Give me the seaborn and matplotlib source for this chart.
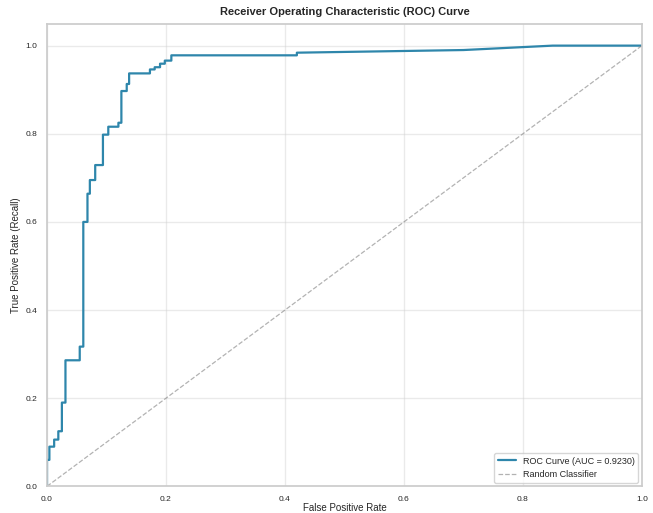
import matplotlib
matplotlib.use("Agg")
import matplotlib.pyplot as plt
import seaborn as sns
import pandas as pd

fpr = [0.0, 0.0, 0.004, 0.004, 0.012, 0.012, 0.019, 0.019, 0.025, 0.025, 0.031, 0.031,
       0.055, 0.055, 0.061, 0.061, 0.068, 0.068, 0.072, 0.072, 0.081, 0.081, 0.094, 0.094,
       0.103, 0.103, 0.120, 0.120, 0.125, 0.125, 0.134, 0.134, 0.138, 0.138, 0.173, 0.173,
       0.181, 0.181, 0.190, 0.190, 0.198, 0.198, 0.209, 0.209, 0.420, 0.420, 0.700, 0.850, 1.0]
tpr = [0.0, 0.06, 0.06, 0.09, 0.09, 0.106, 0.106, 0.125, 0.125, 0.19, 0.19, 0.286,
       0.286, 0.317, 0.317, 0.60, 0.60, 0.664, 0.664, 0.695, 0.695, 0.729, 0.729, 0.798,
       0.798, 0.816, 0.816, 0.825, 0.825, 0.897, 0.897, 0.913, 0.913, 0.937, 0.937, 0.946,
       0.946, 0.951, 0.951, 0.959, 0.959, 0.966, 0.966, 0.978, 0.978, 0.984, 0.990, 1.0, 1.0]
chance_x = [0.0, 1.0]
chance_y = [0.0, 1.0]
auc_value = 0.9230

sns.set_theme(style="whitegrid")
plt.rcParams['font.family'] = ['Liberation Sans', 'DejaVu Sans']

fig = plt.figure(figsize=(6.53, 5.13), dpi=100)
ax = fig.add_axes([0.072, 0.052, 0.911, 0.902])

roc = pd.DataFrame({"fpr": fpr, "tpr": tpr})
sns.lineplot(data=roc, x="fpr", y="tpr", sort=False, estimator=None, ax=ax,
             color="#2E86AB", linewidth=1.6, label=f"ROC Curve (AUC = {auc_value:.4f})")
sns.lineplot(x=chance_x, y=chance_y, ax=ax, color="gray", linestyle="--",
             linewidth=0.9, alpha=0.6, label="Random Classifier")

ax.set_xlim(0, 1.0)
ax.set_ylim(0, 1.05)
ax.set_xlabel("False Positive Rate", fontsize=7, labelpad=0)
ax.set_ylabel("True Positive Rate (Recall)", fontsize=7, labelpad=3)
ax.set_title("Receiver Operating Characteristic (ROC) Curve", fontsize=8, fontweight="bold", pad=6)
ax.tick_params(axis="both", labelsize=6, pad=1)
ax.grid(True, alpha=0.4)
ax.legend(loc="lower right", fontsize=6.5, frameon=True, borderaxespad=0.4)

fig.savefig("out.png", dpi=100)
